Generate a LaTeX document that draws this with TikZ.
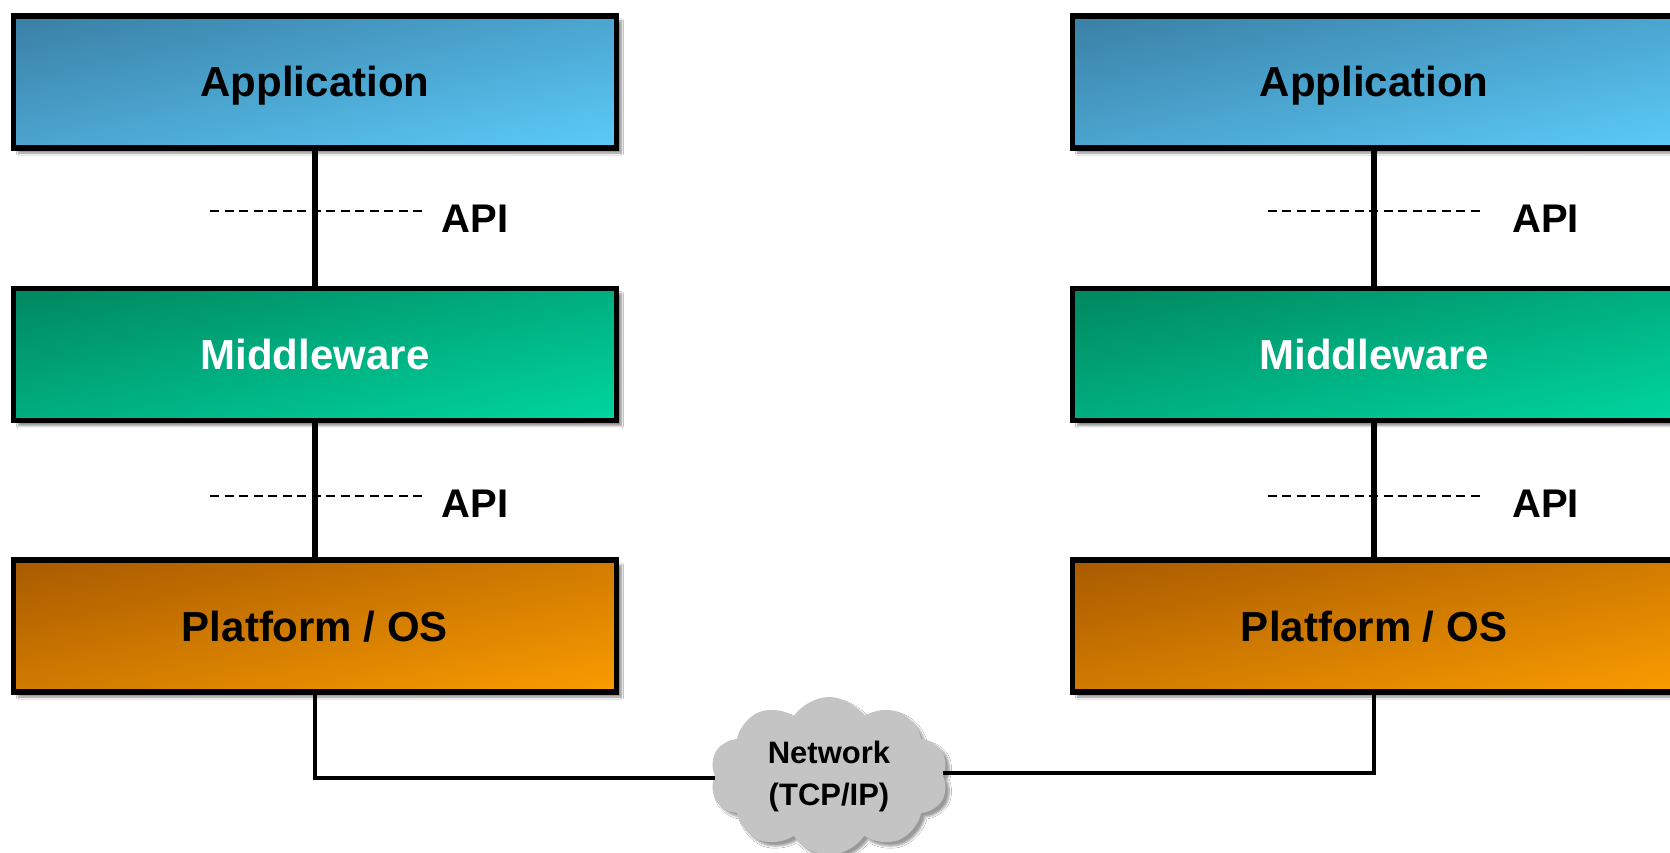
\documentclass[tikz,border=0pt]{standalone}
\usepackage{fontspec}
\setmainfont{Liberation Sans}
\usetikzlibrary{shapes.symbols,shadows.blur}
\definecolor{cloudgray}{HTML}{C4C4C4}
% diagonal (top-left -> bottom-right) shadings; the path maps to the inner 50bp
\pgfdeclarefunctionalshading{appshade}{\pgfpoint{-50bp}{-50bp}}{\pgfpoint{50bp}{50bp}}{}{
  sub 50 add 100 div
  dup 0 lt {pop 0} if dup 1 gt {pop 1} if
  dup 0.130 mul 0.227 add exch
  dup 0.298 mul 0.498 add exch
  0.322 mul 0.651 add
}
\pgfdeclarefunctionalshading{midshade}{\pgfpoint{-50bp}{-50bp}}{\pgfpoint{50bp}{50bp}}{}{
  sub 50 add 100 div
  dup 0 lt {pop 0} if dup 1 gt {pop 1} if
  dup 0.0 mul 0.0 add exch
  dup 0.310 mul 0.529 add exch
  0.254 mul 0.373 add
}
\pgfdeclarefunctionalshading{platshade}{\pgfpoint{-50bp}{-50bp}}{\pgfpoint{50bp}{50bp}}{}{
  sub 50 add 100 div
  dup 0 lt {pop 0} if dup 1 gt {pop 1} if
  dup 0.321 mul 0.659 add exch
  dup 0.259 mul 0.353 add exch
  0.0 mul 0.0 add
}
\tikzset{
  layerbox/.style={rectangle, draw=black, line width=5.5pt, minimum width=603pt,
    minimum height=132pt, inner sep=0pt, text height=30pt, text depth=0pt,
    font=\fontsize{42}{50}\selectfont\bfseries,
    blur shadow={shadow xshift=5pt, shadow yshift=-5pt, shadow blur steps=6, shadow opacity=45}},
  appbox/.style={layerbox, shading=appshade, text=black},
  midbox/.style={layerbox, shading=midshade, text=white},
  platbox/.style={layerbox, shading=platshade, text=black},
  conn/.style={line width=5.5pt, draw=black},
  netconn/.style={line width=3.5pt, draw=black},
  apiline/.style={line width=2pt, dash pattern=on 9pt off 5.5pt},
  apilabel/.style={font=\fontsize{40}{48}\selectfont\bfseries, inner sep=0pt},
  netcloud/.style={cloud, cloud puffs=10, cloud puff arc=115, aspect=1.5, fill=cloudgray,
    minimum width=238pt, minimum height=158pt, inner sep=0pt, align=center,
    font=\fontsize{31}{42}\selectfont\bfseries,
    blur shadow={shadow xshift=4pt, shadow yshift=-4pt, shadow blur steps=6, shadow opacity=40}}
}
\begin{document}
\begin{tikzpicture}[x=1pt,y=-1pt]
\useasboundingbox (0,0) rectangle (1670,853);
\clip (0,0) rectangle (1670,853);
\fill[white] (0,0) rectangle (1670,853);

% left stack
\node[appbox] (app1) at (315,82) {Application};
\node[midbox] (mid1) at (315,354.7) {Middleware};
\node[platbox] (plat1) at (315,626) {Platform / OS};
% right stack
\node[appbox] (app2) at (1374,82) {Application};
\node[midbox] (mid2) at (1374,354.7) {Middleware};
\node[platbox] (plat2) at (1374,626) {Platform / OS};

% cloud
\node[netcloud] (net) at (829,776) {Network\\(TCP/IP)};

% vertical connectors
\draw[conn] (app1.south) -- (mid1.north);
\draw[conn] (mid1.south) -- (plat1.north);
\draw[conn] (app2.south) -- (mid2.north);
\draw[conn] (mid2.south) -- (plat2.north);

% network connectors
\draw[netconn] (plat1.south) |- ([yshift=-2pt]net.west);
\draw[netconn] (plat2.south) |- ([yshift=3pt]net.east);

% API dashed lines
\coordinate (d1a) at (210,210.9); \coordinate (d1b) at (423,210.9);
\coordinate (d2a) at (210,496.3); \coordinate (d2b) at (423,496.3);
\coordinate (d3a) at (1267.5,210.9); \coordinate (d3b) at (1480.5,210.9);
\coordinate (d4a) at (1267.5,496.3); \coordinate (d4b) at (1480.5,496.3);
\draw[apiline] (d1a) -- (d1b);
\draw[apiline] (d2a) -- (d2b);
\draw[apiline] (d3a) -- (d3b);
\draw[apiline] (d4a) -- (d4b);

\node[apilabel] (api1) at (475,218.5) {API};
\node[apilabel] (api2) at (475,504) {API};
\node[apilabel] (api3) at (1545.5,218.5) {API};
\node[apilabel] (api4) at (1545.5,504) {API};
\end{tikzpicture}
\end{document}
